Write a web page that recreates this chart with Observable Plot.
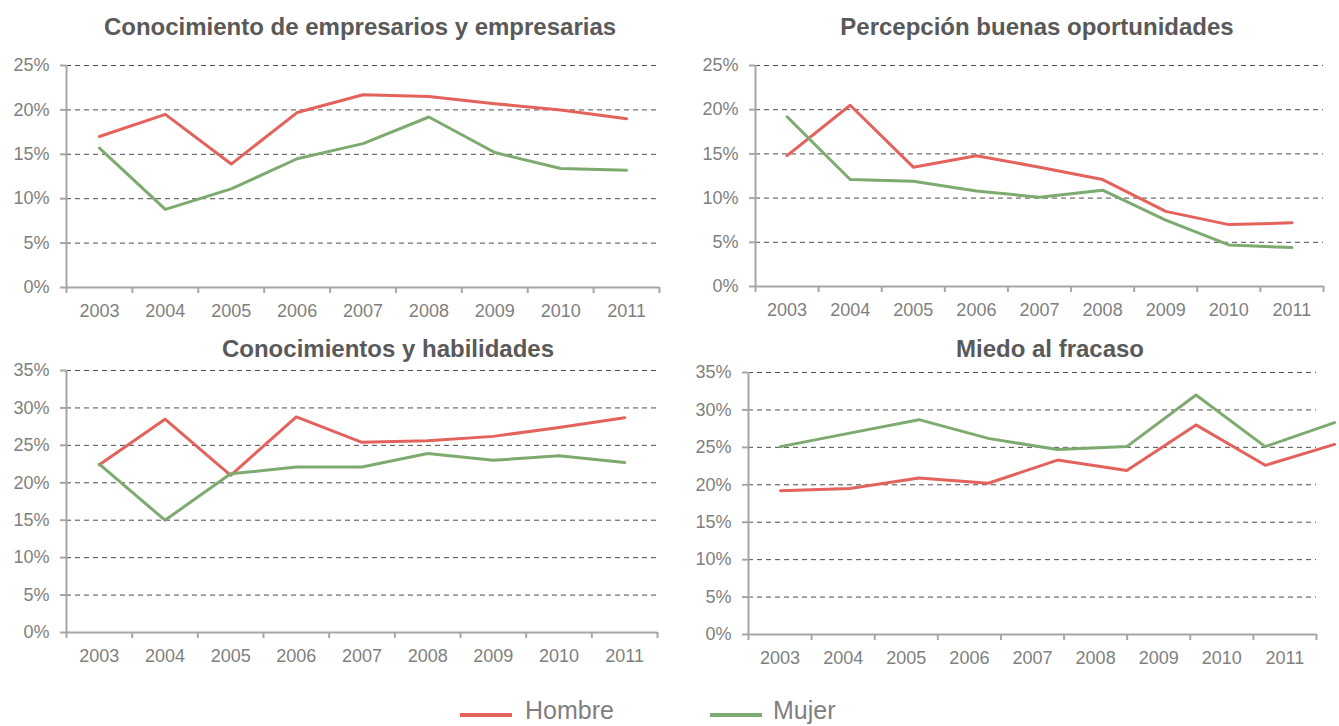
<!DOCTYPE html>
<html>
<head>
<meta charset="utf-8">
<script src="https://cdn.jsdelivr.net/npm/d3@7"></script>
<script src="https://cdn.jsdelivr.net/npm/@observablehq/plot@0.6"></script>
<style>
html, body { margin: 0; padding: 0; background: #fff; }
#root { position: relative; width: 1339px; height: 726px; overflow: hidden; font-family: "Liberation Sans", Arial, sans-serif; background: #fff; }
.panel { position: absolute; }
.panel svg { display: block; }
.title { position: absolute; font-weight: bold; font-size: 24px; line-height: 1; color: #595959; white-space: nowrap; transform: translate(-50%, -50%); }
.lg-line { position: absolute; height: 4px; }
.lg-text { position: absolute; font-size: 25px; line-height: 1; color: #7f7f7f; white-space: nowrap; }
</style>
</head>
<body>
<div id="root"></div>
<script>
// ---- data ----
const years = [2003, 2004, 2005, 2006, 2007, 2008, 2009, 2010, 2011];
const seriesNames = ["Hombre", "Mujer"];
const seriesColors = ["#E3625B", "#7DAA6F"];
const titles = [
  "Conocimiento de empresarios y empresarias",
  "Percepción buenas oportunidades",
  "Conocimientos y habilidades",
  "Miedo al fracaso"
];
// values in %
const hombreEmpresarios = [17.0, 19.5, 13.9, 19.7, 21.7, 21.5, 20.7, 20.0, 19.0];
const mujerEmpresarios  = [15.7, 8.8, 11.1, 14.5, 16.2, 19.2, 15.2, 13.4, 13.2];
const hombreOportunidades = [14.8, 20.5, 13.5, 14.8, 13.5, 12.1, 8.5, 7.0, 7.2];
const mujerOportunidades  = [19.2, 12.1, 11.9, 10.8, 10.1, 10.9, 7.5, 4.7, 4.4];
const hombreHabilidades = [22.4, 28.5, 21.0, 28.8, 25.4, 25.6, 26.2, 27.4, 28.7];
const mujerHabilidades  = [22.5, 15.0, 21.2, 22.1, 22.1, 23.9, 23.0, 23.6, 22.7];
const hombreMiedo = [19.2, 19.5, 20.9, 20.2, 23.3, 21.9, 28.0, 22.6, 25.4];
const mujerMiedo  = [25.1, 26.9, 28.7, 26.2, 24.7, 25.1, 32.0, 25.1, 28.3];
const yTicksSmall = [0, 5, 10, 15, 20, 25];
const yTicksLarge = [0, 5, 10, 15, 20, 25, 30, 35];

const panelSeries = [
  [hombreEmpresarios, mujerEmpresarios],
  [hombreOportunidades, mujerOportunidades],
  [hombreHabilidades, mujerHabilidades],
  [hombreMiedo, mujerMiedo]
];
const panelTicks = [yTicksSmall, yTicksSmall, yTicksLarge, yTicksLarge];

// ---- layout ----
const layouts = [
  {left: 0,   top: 0,   width: 669, height: 330, mL: 66, mR: 10, mT: 65, mB: 43, tx: 360,  ty: 27},
  {left: 669, top: 0,   width: 670, height: 330, mL: 86, mR: 16, mT: 65, mB: 44, tx: 1037, ty: 27},
  {left: 0,   top: 330, width: 669, height: 330, mL: 66, mR: 12, mT: 40, mB: 28, tx: 388,  ty: 349},
  {left: 669, top: 330, width: 670, height: 330, mL: 79, mR: 23, mT: 42, mB: 26, tx: 1050, ty: 349,
   lineLayer: {mL: 111, mR: 5}}
];

const root = document.getElementById("root");
const axisGray = "#a6a6a6";
const textGray = "#7f7f7f";
const gridColor = "#4d4d4d";

function rows(i) {
  const out = [];
  years.forEach((yr, j) => {
    seriesNames.forEach((s, k) => out.push({year: yr, value: panelSeries[i][k][j], serie: s}));
  });
  return out;
}

layouts.forEach((L, i) => {
  const data = rows(i);
  const yt = panelTicks[i];
  const x0 = years[0] - 0.5, x1 = years[years.length - 1] + 0.5;
  const bounds = years.map(y => y - 0.5).concat([x1]);
  const yMax = yt[yt.length - 1];
  const lineMark = Plot.line(data, {x: "year", y: "value", stroke: "serie", strokeWidth: 3, strokeLinejoin: "round"});

  const marks = [
    Plot.gridY({ticks: yt.filter(d => d > 0), stroke: gridColor, strokeOpacity: 1, strokeDasharray: "5,4"}),
    Plot.axisY({ticks: yt, tickSize: 6, tickFormat: () => "", color: axisGray, strokeWidth: 2, label: null}),
    Plot.axisY({ticks: yt, tickSize: 0, tickPadding: 17, tickFormat: d => d + "%", color: textGray, label: null}),
    Plot.axisX({ticks: bounds, tickSize: 6, tickFormat: () => "", color: axisGray, strokeWidth: 2, label: null}),
    Plot.axisX({ticks: years, tickSize: 0, tickPadding: 17, tickFormat: d => String(d), color: textGray, label: null}),
    Plot.ruleY([0], {stroke: axisGray, strokeWidth: 2}),
    Plot.ruleX([x0], {stroke: axisGray, strokeWidth: 2})
  ];
  if (!L.lineLayer) marks.push(lineMark);

  const svg = Plot.plot({
    width: L.width, height: L.height,
    marginLeft: L.mL, marginRight: L.mR, marginTop: L.mT, marginBottom: L.mB,
    x: {domain: [x0, x1], axis: null},
    y: {domain: [0, yMax], axis: null},
    color: {domain: seriesNames, range: seriesColors},
    style: {fontFamily: '"Liberation Sans", Arial, sans-serif', fontSize: "18px", background: "transparent", overflow: "visible"},
    marks
  });
  const div = document.createElement("div");
  div.className = "panel";
  div.style.left = L.left + "px"; div.style.top = L.top + "px";
  div.style.width = L.width + "px"; div.style.height = L.height + "px";
  div.appendChild(svg);
  root.appendChild(div);

  if (L.lineLayer) {
    const svg2 = Plot.plot({
      width: L.width, height: L.height,
      marginLeft: L.lineLayer.mL, marginRight: L.lineLayer.mR, marginTop: L.mT, marginBottom: L.mB,
      x: {domain: [years[0], years[years.length - 1]], axis: null},
      y: {domain: [0, yMax], axis: null},
      color: {domain: seriesNames, range: seriesColors},
      style: {background: "transparent", overflow: "visible"},
      marks: [lineMark]
    });
    const div2 = document.createElement("div");
    div2.className = "panel";
    div2.style.left = L.left + "px"; div2.style.top = L.top + "px";
    div2.style.width = L.width + "px"; div2.style.height = L.height + "px";
    div2.appendChild(svg2);
    root.appendChild(div2);
  }

  const t = document.createElement("div");
  t.className = "title";
  t.textContent = titles[i];
  t.style.left = L.tx + "px"; t.style.top = L.ty + "px";
  root.appendChild(t);
});

// ---- legend ----
const legendPos = [{line: 460, text: 525}, {line: 710, text: 773}];
seriesNames.forEach((s, k) => {
  const ln = document.createElement("div");
  ln.className = "lg-line";
  ln.style.left = legendPos[k].line + "px"; ln.style.top = "713px"; ln.style.width = "52px";
  ln.style.background = seriesColors[k];
  root.appendChild(ln);
  const tx = document.createElement("div");
  tx.className = "lg-text";
  tx.textContent = s;
  tx.style.left = legendPos[k].text + "px"; tx.style.top = "698px";
  root.appendChild(tx);
});
</script>
</body>
</html>
